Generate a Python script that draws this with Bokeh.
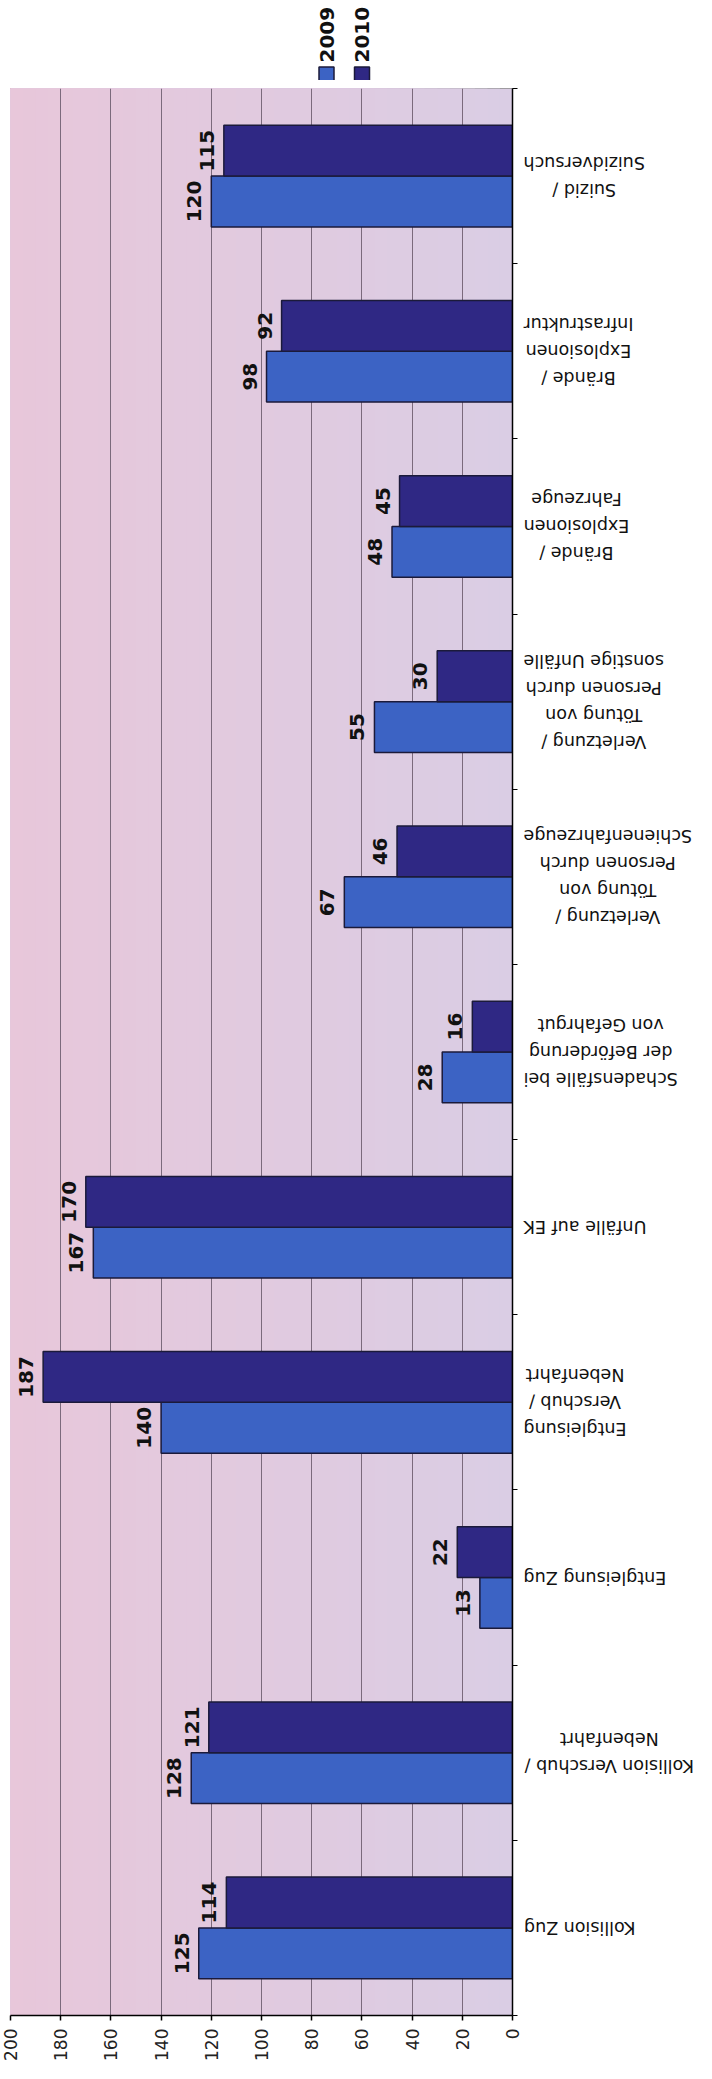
import math
import numpy as np
from bokeh.plotting import figure
from bokeh.models import ColumnDataSource, Range1d, FixedTicker
from bokeh.layouts import column, row
from bokeh.embed import file_html
from bokeh.resources import INLINE
from bokeh.core.properties import value

# ---------------- data ----------------
categories = [
    "Kollision Zug",
    "Kollision Verschub /\nNebenfahrt",
    "Entgleisung Zug",
    "Entgleisung\nVerschub /\nNebenfahrt",
    "Unfälle auf EK",
    "Schadensfälle bei\nder Beförderung\nvon Gefahrgut",
    "Verletzung /\nTötung von\nPersonen durch\nSchienenfahrzeuge",
    "Verletzung /\nTötung von\nPersonen durch\nsonstige Unfälle",
    "Brände /\nExplosionen\nFahrzeuge",
    "Brände /\nExplosionen\nInfrastruktur",
    "Suizid /\nSuizidversuch",
]
values_2009 = [125, 128, 13, 140, 167, 28, 67, 55, 48, 98, 120]
values_2010 = [114, 121, 22, 187, 170, 16, 46, 30, 45, 92, 115]
series_names = ["2009", "2010"]
value_ticks = [0, 20, 40, 60, 80, 100, 120, 140, 160, 180, 200]

# ---------------- style ----------------
C2009 = "#3c63c4"
C2010 = "#2f2884"
EDGE = "#1b1a3a"
GRID = "#7b6a7c"
FONT = "DejaVu Sans"

W = 704
LEG_H = 80
MAIN_H = 2063 - LEG_H
MAIN_W = 522
SIDE_W = W - MAIN_W
TOP_B, BOT_B = 8, 48
n = len(categories)
vmax = value_ticks[-1]

centers = np.arange(n) + 0.5
bar_h = 0.29
y2009 = centers - bar_h / 2
y2010 = centers + bar_h / 2

# ---------------- main chart ----------------
p = figure(width=MAIN_W, height=MAIN_H, x_range=Range1d(vmax, 0), y_range=Range1d(0, n),
           y_axis_location="right", output_backend="svg", toolbar_location=None,
           min_border_left=10, min_border_right=10, min_border_top=TOP_B,
           min_border_bottom=BOT_B)
p.border_fill_color = "white"
p.background_fill_color = "white"
p.outline_line_color = "#8a8a8a"
p.outline_line_width = 1

# background gradient (pink far from axis -> lavender near axis), overlapping strips
edges = np.linspace(0, vmax, 41)[:-1]
c_far = np.array([232, 199, 218])
c_near = np.array([218, 205, 228])
bg_cols = ["#%02x%02x%02x" % tuple(int(round(v)) for v in (c_near + (c_far - c_near) * (e / vmax)))
           for e in edges]
p.quad(left=edges, right=vmax, bottom=0, top=n, fill_color=bg_cols,
       line_color=None, level="image")

# grid
p.xgrid.ticker = FixedTicker(ticks=value_ticks[1:-1])
p.xgrid.grid_line_color = GRID
p.xgrid.grid_line_width = 1
p.ygrid.visible = False

# bars
src09 = ColumnDataSource(dict(y=y2009, v=values_2009, t=[str(v) for v in values_2009]))
src10 = ColumnDataSource(dict(y=y2010, v=values_2010, t=[str(v) for v in values_2010]))
p.hbar(y="y", left=0, right="v", height=bar_h, source=src09, fill_color=C2009,
       line_color=EDGE, line_width=1.5)
p.hbar(y="y", left=0, right="v", height=bar_h, source=src10, fill_color=C2010,
       line_color=EDGE, line_width=1.5)

# value labels
for src in (src09, src10):
    p.text(x="v", y="y", text="t", source=src, angle=math.pi / 2, text_align="center",
           text_baseline="bottom", x_offset=-10, text_font=value(FONT),
           text_font_style="bold", text_font_size="20px", text_color="#111111")

# bottom axis
xa = p.xaxis[0]
xa.ticker = FixedTicker(ticks=value_ticks)
xa.minor_tick_line_color = None
xa.major_tick_in = 0
xa.major_tick_out = 5
xa.axis_line_width = 1.5
xa.axis_line_color = "black"
xa.major_tick_line_color = "black"
xa.major_tick_line_width = 1.5
xa.major_label_orientation = math.pi / 2
xa.major_label_standoff = 8
xa.major_label_text_font = FONT
xa.major_label_text_font_size = "17px"
xa.major_label_text_color = "#222222"

# right (category) axis: ticks at category boundaries
ya = p.yaxis[0]
ya.ticker = FixedTicker(ticks=list(range(n + 1)))
ya.minor_tick_line_color = None
ya.major_tick_in = 0
ya.major_tick_out = 5
ya.axis_line_width = 1.5
ya.axis_line_color = "black"
ya.major_tick_line_color = "black"
ya.major_label_standoff = 0
ya.major_label_text_font_size = "0px"
ya.major_label_text_color = None

# ---------------- category labels (side panel sharing the y range) ----------------
side = figure(width=SIDE_W, height=MAIN_H, x_range=Range1d(0, SIDE_W), y_range=p.y_range,
              output_backend="svg", toolbar_location=None, min_border_left=0,
              min_border_right=0, min_border_top=TOP_B, min_border_bottom=BOT_B,
              x_axis_location=None, y_axis_location=None)
side.grid.visible = False
side.outline_line_color = None
side.background_fill_color = "white"
side.border_fill_color = "white"

CW = {" ": .318, "/": .337, "a": .613, "b": .635, "c": .550, "d": .635, "e": .615, "f": .352,
      "g": .635, "h": .634, "i": .278, "k": .579, "l": .278, "n": .634, "o": .612, "p": .635,
      "r": .411, "s": .521, "t": .392, "u": .634, "v": .592, "z": .525, "ä": .613, "ö": .612,
      "B": .686, "E": .632, "F": .575, "G": .775, "I": .295, "K": .656, "N": .748, "P": .603,
      "S": .635, "T": .611, "U": .732, "V": .684, "Z": .685}
CAT_FS = 17.5


def text_w(line):
    return sum(CW.get(ch, 0.6) for ch in line) * CAT_FS


cat_x = [1 + max(text_w(l) for l in lab.split("\n")) / 2 for lab in categories]
cat_src = ColumnDataSource(dict(x=cat_x, y=centers, text=categories))
side.text(x="x", y="y", text="text", source=cat_src, angle=math.pi, text_align="center",
          text_baseline="middle", text_font=value(FONT), text_font_size=f"{CAT_FS}px",
          text_line_height=1.35, text_color="#111111")

# ---------------- legend strip ----------------
lg = figure(width=W, height=LEG_H, x_range=Range1d(0, W), y_range=Range1d(LEG_H, 0),
            output_backend="svg", toolbar_location=None, min_border=0,
            x_axis_location=None, y_axis_location=None)
lg.grid.visible = False
lg.outline_line_color = None
lg.background_fill_color = "white"
lg.border_fill_color = "white"
leg_x = [326, 361.5]
lg_src = ColumnDataSource(dict(x=leg_x, y=[74, 74], ty=[62, 62], c=[C2009, C2010], t=series_names))
lg.scatter(x="x", y="y", marker="square", size=15, fill_color="c", line_color=EDGE,
           line_width=1.5, source=lg_src)
lg.text(x="x", y="ty", text="t", source=lg_src, angle=math.pi / 2, text_align="left",
        text_baseline="middle", text_font=value(FONT), text_font_style="bold",
        text_font_size="20px", text_color="#111111")

layout = column(lg, row(p, side))
open("out.html", "w", encoding="utf-8").write(file_html(layout, INLINE))
